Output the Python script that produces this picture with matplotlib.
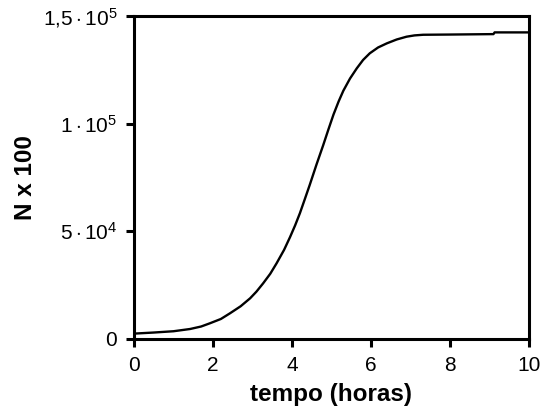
import matplotlib
matplotlib.use("Agg")
import matplotlib.pyplot as plt

# growth curve
tempo = [0.0, 0.5, 1.0, 1.42, 1.7, 1.92, 2.2, 2.43, 2.7, 2.94, 3.1, 3.27,
         3.45, 3.61, 3.8, 3.95, 4.08, 4.2, 4.32, 4.45, 4.62, 4.79, 4.92,
         5.05, 5.18, 5.3, 5.47, 5.64, 5.8, 5.97, 6.18, 6.4, 6.65, 6.9,
         7.1, 7.32, 8.0, 9.1, 9.13, 10.0]
N = [2500, 3000, 3600, 4640, 5800, 7280, 9300, 11930, 15200, 18900, 22000,
     25860, 30300, 35150, 41400, 47300, 52800, 58400, 64700, 71600, 81000,
     90000, 97200, 104200, 110300, 115300, 121000, 125700, 129600, 132700,
     135400, 137300, 139100, 140400, 141000, 141300, 141400, 141600,
     142400, 142400]

y_ticks = [0, 5e4, 1e5, 1.5e5]
y_labels = ["0", r"$5\cdot10^4$", r"$1\cdot10^5$", r"$1{,}5\cdot10^5$"]
x_ticks = [0, 2, 4, 6, 8, 10]

plt.rcParams["font.family"] = ["Liberation Sans", "DejaVu Sans"]
plt.rcParams["mathtext.fontset"] = "custom"
plt.rcParams["mathtext.rm"] = "Liberation Sans"
plt.rcParams["mathtext.it"] = "Liberation Sans"
plt.rcParams["mathtext.default"] = "rm"


def main():
    fig = plt.figure(figsize=(5.42, 4.11), dpi=100)
    ax = fig.add_axes([0.2472, 0.1752, 0.976 - 0.2472, 0.961 - 0.1752])

    ax.plot(tempo, N, color="black", linewidth=1.7)

    ax.set_xlim(0, 10)
    ax.set_ylim(0, 1.5e5)
    ax.set_xticks(x_ticks)
    ax.set_xticklabels([str(v) for v in x_ticks])
    ax.set_yticks(y_ticks)
    ax.set_yticklabels(y_labels)

    for s in ax.spines.values():
        s.set_linewidth(2.2)
    ax.tick_params(direction="out", length=6, width=2.2, labelsize=15, pad=6)

    ax.set_xlabel("tempo (horas)", fontsize=17.5, fontweight="bold", labelpad=6)
    ax.set_ylabel("N x 100", fontsize=17.5, fontweight="bold", labelpad=4)

    fig.savefig("out.png", dpi=100)


main()
